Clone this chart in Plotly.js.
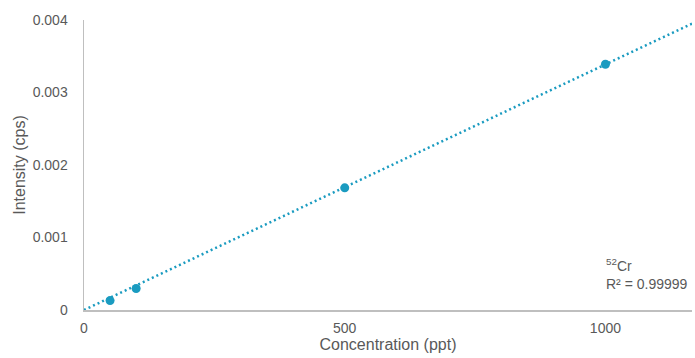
<!DOCTYPE html>
<html>
<head>
<meta charset="utf-8">
<script src="https://cdn.plot.ly/plotly-3.0.1.min.js"></script>
<style>html,body{margin:0;padding:0;background:#fff;}#chart{width:695px;height:358px;}</style>
</head>
<body>
<div id="chart"></div>
<script>
const concentration = [50, 100, 500, 1000];
const intensity = [0.00013, 0.000297, 0.001685, 0.00339];
const trendX = [0, 1166];
const trendY = [0, 0.00395];
const xTicks = [0, 500, 1000];
const yTicks = [0, 0.001, 0.002, 0.003, 0.004];
const yTickLabels = ['0', '0.001', '0.002', '0.003', '0.004'];
const isotopeLabel = '<sup>52</sup>Cr';
const r2Label = 'R² = 0.99999';

const color = '#1a9bc0';
const grey = '#595959';
const axisColor = '#bfbfbf';

const traces = [
  {x: trendX, y: trendY, mode: 'lines', line: {color: color, width: 2.5, dash: '2px,3px'}, hoverinfo: 'skip'},
  {x: concentration, y: intensity, mode: 'markers', marker: {color: color, size: 9}}
];

const layout = {
  width: 695, height: 358,
  margin: {l: 84, r: 3, t: 20, b: 48},
  paper_bgcolor: '#fff', plot_bgcolor: '#fff',
  showlegend: false,
  font: {family: 'Liberation Sans, Arial, sans-serif', color: grey, size: 14},
  xaxis: {
    range: [0, 1166], tickvals: xTicks, ticktext: xTicks.map(String),
    showgrid: false, zeroline: false, showline: true, linecolor: axisColor, linewidth: 1.5,
    ticks: '', ticklabelstandoff: 5,
    tickfont: {size: 14, color: grey},
    title: {text: 'Concentration (ppt)', font: {size: 16, color: grey}, standoff: 3},
    automargin: false, fixedrange: true
  },
  yaxis: {
    range: [0, 0.004], tickvals: yTicks, ticktext: yTickLabels,
    showgrid: false, zeroline: false, showline: true, linecolor: axisColor, linewidth: 1.5,
    ticks: '', ticklabelstandoff: 12,
    tickfont: {size: 14, color: grey},
    title: {text: 'Intensity (cps)', font: {size: 16, color: grey}, standoff: 3},
    automargin: false, fixedrange: true
  },
  annotations: [
    {x: 997, y: 0.00049, xref: 'x', yref: 'y', text: isotopeLabel + '<br>' + r2Label, showarrow: false,
     xanchor: 'left', yanchor: 'middle', align: 'left', font: {size: 14, color: grey}}
  ]
};

Plotly.newPlot('chart', traces, layout, {displayModeBar: false, staticPlot: true});
</script>
</body>
</html>
